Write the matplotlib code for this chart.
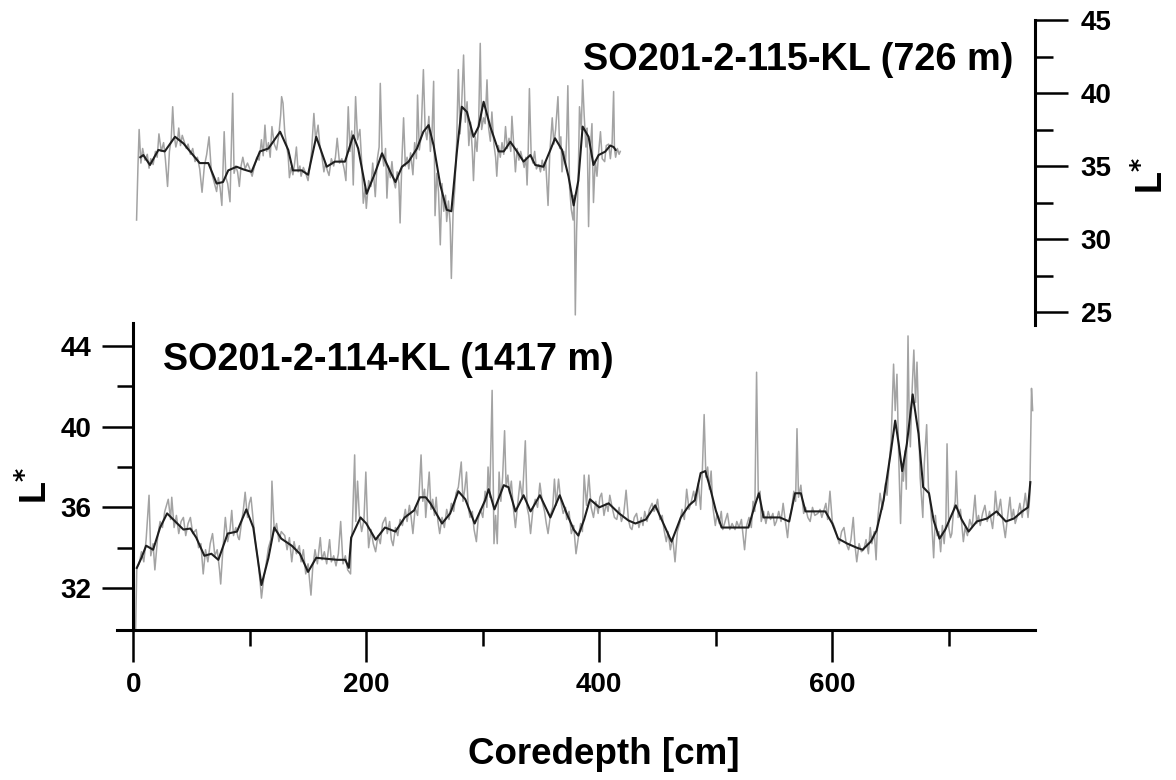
import numpy as np
import matplotlib.pyplot as plt
from matplotlib.ticker import MultipleLocator

plt.rcParams['font.family'] = ['Liberation Sans', 'DejaVu Sans']
plt.rcParams['font.weight'] = 'bold'

# ---- SO201-2-114-KL (1417 m): raw L* record ----
low_raw_depth = [
    2, 3, 5, 7, 9, 11, 13.5, 15, 17, 18.5, 21, 23, 25, 27, 30, 32, 33, 35, 37, 39, 41, 43, 45, 47,
    49, 51, 54, 56, 58, 60, 62, 64, 66, 68, 70, 72, 74, 75, 77, 79, 81, 83, 84.5, 86, 88, 90, 91, 93,
    94.5, 96, 98, 99.5, 101, 103, 105, 107, 109, 110, 112, 114, 116, 118, 119, 121, 123, 125, 127, 130,
    132, 134, 136, 138, 140, 142.5, 144, 146, 148, 150, 151, 152.5, 154, 156, 158, 160.5, 162, 164, 166,
    168.5, 170, 172, 174, 176, 178, 180, 182, 184, 186.5, 187, 188, 190, 191, 192.5, 194, 196, 198,
    199.6, 201, 202, 204, 206, 208, 210, 212, 214, 216.5, 218, 220, 221.5, 223, 225, 227, 229, 231,
    233.5, 235, 237, 238.5, 240, 242, 244, 245.5, 247, 248.5, 250, 251, 252.5, 254, 255.5, 257, 258.5,
    260, 261.5, 263, 265, 267, 269, 271, 273, 275, 277, 279, 281.5, 283, 284.5, 286, 287.5, 289, 291,
    292.5, 294.5, 296, 298, 300, 302, 303.5, 304.5, 306, 308, 309.6, 311, 312.4, 314, 315.5, 317,
    318.7, 320, 321.5, 323, 324.5, 326, 328, 330, 332, 334, 336.5, 338, 339.5, 341, 343, 345, 347, 349,
    351, 353, 354.5, 356, 358, 360, 361.5, 363, 365, 367, 369, 371, 372, 374, 376, 378, 380, 382, 384,
    385.5, 387, 389, 391, 393, 395, 397, 399, 400.5, 402, 404, 406, 407.5, 409, 411, 413, 415, 417, 419,
    421, 423, 425, 426.5, 428, 430, 432, 434, 436, 437.5, 439, 441, 443, 445.3, 447, 448.5, 450, 452,
    454, 455.5, 457.5, 459, 461, 463, 465, 467, 469, 471, 473, 475, 477, 479, 481, 483, 485, 487, 488.5,
    490, 491.5, 493, 494.5, 496, 497.5, 499.6, 501, 503, 504.7, 506, 508, 510, 512, 514, 516.5, 518,
    520, 522, 524.7, 526.5, 528.5, 530.5, 532, 533.5, 535, 536.5, 538, 539, 541, 543, 545, 547, 549,
    550.5, 552, 554, 556, 557.8, 559.5, 561.6, 563, 565, 567, 568.5, 569.7, 571, 573, 575.4, 577, 579,
    581, 583, 585, 587.6, 589.5, 591, 593, 594.5, 596, 598, 600, 602, 604, 606, 608, 610, 612, 614, 616,
    618, 619.5, 621, 623, 625, 627, 629, 631, 632.6, 634, 636, 637.6, 639, 641, 643, 645.7, 647, 649,
    650.5, 652.6, 654, 655.5, 657, 658.6, 660, 661, 662.5, 663.5, 665, 666, 667, 668.5, 670, 671.5,
    672.7, 674, 675.4, 677.7, 679, 681, 682.5, 684, 685.5, 687, 688.5, 690, 691.5, 693, 694.5, 696,
    697.5, 698.5, 700, 701.5, 702.6, 704, 705.5, 706.4, 708, 710, 712.5, 714, 716, 718, 720, 722.5,
    724, 725.5, 727, 729, 731, 733, 735, 737.6, 739, 740, 742, 744.4, 746, 748.5, 750, 752.5, 754,
    755.5, 757, 759, 761, 763, 765.7, 767, 768, 769.5, 771, 772]
low_raw_lstar = [
    30.0, 33.0, 33.2, 33.8, 33.3, 34.4, 36.6, 33.6, 34.2, 32.9, 34.6, 35.3, 35.0, 35.8, 36.4, 35.4,
    36.5, 35.0, 35.6, 34.7, 35.3, 35.5, 34.6, 35.2, 35.5, 34.7, 34.9, 34.0, 34.2, 32.7, 33.9, 33.3,
    34.2, 34.7, 33.6, 33.9, 32.9, 32.2, 34.0, 35.5, 34.3, 34.9, 35.85, 34.6, 35.0, 34.5, 34.4, 35.3,
    35.9, 36.75, 35.5, 36.2, 36.5, 35.3, 34.2, 33.4, 32.2, 31.5, 32.5, 33.2, 34.0, 34.4, 37.3, 34.8,
    35.2, 34.3, 34.8, 34.6, 33.9, 34.5, 33.3, 34.3, 33.7, 34.1, 33.3, 33.9, 32.7, 33.2, 32.6, 31.65,
    33.0, 33.9, 33.2, 34.5, 33.4, 33.8, 33.2, 34.4, 33.3, 33.6, 33.1, 33.7, 35.3, 33.2, 33.6, 32.9,
    32.7, 34.2, 35.0, 38.6, 35.3, 37.3, 35.6, 34.8, 35.4, 37.75, 35.3, 34.0, 34.9, 34.2, 33.8, 34.6,
    34.2, 35.2, 35.5, 34.7, 35.3, 34.4, 34.1, 35.0, 34.6, 35.4, 35.1, 35.9, 35.3, 36.1, 35.5, 34.7,
    36.0, 35.6, 36.9, 38.6, 36.3, 36.9, 35.5, 36.6, 37.75, 35.9, 36.4, 35.6, 36.5, 35.3, 34.7, 35.5,
    35.0, 35.9, 35.4, 36.2, 35.8, 36.7, 37.0, 38.25, 36.3, 36.9, 37.75, 36.0, 35.5, 35.8, 34.9, 34.3,
    35.4, 35.9, 35.5, 36.8, 36.0, 38.0, 36.5, 41.8, 34.2, 35.6, 34.2, 37.75, 36.3, 37.5, 39.8, 37.0,
    37.6, 36.7, 37.3, 36.1, 35.0, 36.2, 37.3, 36.4, 39.3, 36.0, 35.6, 34.7, 35.9, 36.4, 36.0, 37.2,
    36.3, 35.8, 35.2, 34.7, 35.6, 36.0, 37.4, 36.1, 37.4, 36.3, 35.7, 36.0, 35.4, 35.8, 34.7, 35.1,
    33.7, 34.5, 35.2, 34.8, 37.6, 36.1, 37.6, 36.0, 35.5, 36.3, 35.7, 36.5, 36.7, 35.6, 36.2, 35.8,
    36.6, 36.0, 35.5, 35.4, 36.0, 35.3, 35.7, 36.85, 35.4, 35.0, 34.9, 35.5, 35.7, 35.0, 35.5, 35.1,
    35.8, 35.3, 35.9, 36.2, 35.8, 36.0, 36.4, 35.4, 35.6, 34.9, 34.3, 34.8, 33.9, 34.5, 33.3, 34.8,
    35.2, 35.9, 35.4, 36.9, 35.9, 36.3, 36.8, 36.1, 37.2, 35.9, 37.9, 40.6, 37.5, 38.0, 36.9, 37.8,
    36.0, 35.1, 35.7, 35.2, 35.8, 34.9, 35.3, 35.7, 34.9, 35.2, 34.9, 35.3, 35.0, 35.4, 33.9, 35.1,
    35.5, 35.0, 36.3, 35.8, 42.7, 36.5, 36.8, 35.3, 35.8, 35.2, 35.8, 35.4, 35.7, 35.1, 35.3, 35.8,
    35.3, 36.2, 35.4, 34.5, 35.4, 35.9, 36.8, 36.3, 39.9, 36.5, 37.1, 35.7, 36.0, 35.5, 35.3, 36.0,
    35.6, 35.7, 35.9, 35.5, 35.9, 36.2, 35.4, 36.8, 35.3, 35.0, 34.6, 34.2, 34.8, 35.0, 34.2, 33.9,
    34.4, 35.5, 34.1, 33.3, 34.2, 33.8, 33.9, 34.4, 33.7, 35.0, 34.2, 34.8, 33.4, 35.4, 36.7, 35.9,
    37.2, 36.6, 38.3, 39.3, 43.1, 40.8, 42.6, 38.5, 35.2, 38.0, 37.3, 38.8, 36.9, 44.5, 40.5, 39.0,
    41.8, 43.8, 41.2, 43.2, 40.6, 37.5, 35.5, 38.2, 40.1, 37.0, 36.3, 35.1, 33.5, 35.6, 34.6, 34.8,
    33.8, 35.1, 34.2, 35.3, 39.15, 35.0, 34.5, 34.7, 35.8, 36.3, 37.8, 35.5, 35.9, 34.3, 35.0, 34.6,
    35.4, 35.0, 36.6, 35.2, 35.6, 35.1, 35.7, 36.1, 35.3, 35.8, 34.95, 35.8, 36.8, 35.6, 36.4, 35.5,
    34.5, 35.3, 36.5, 35.4, 35.9, 35.2, 35.6, 36.2, 35.5, 36.7, 36.0, 35.5, 36.5, 41.9, 40.8]

# ---- SO201-2-114-KL: smoothed curve ----
low_smooth_depth = [
    3, 7, 11, 17, 23, 29, 36, 43, 49, 54, 61, 67, 73, 81, 89, 97, 103, 110, 116, 121, 127, 136, 143,
    150, 157, 166, 175, 182, 185, 187, 195, 200, 208, 216, 225, 233, 241, 246, 251, 255, 265, 272, 279,
    285, 293, 302, 305, 310, 318, 322, 328, 335, 341, 349, 358, 366, 372, 378, 382, 387, 392, 400, 408,
    417, 425, 431, 440, 448, 455, 462, 470, 477, 482, 487, 491, 495, 500, 505, 514, 523, 528, 533, 537,
    541, 548, 555, 563, 568, 573, 577, 585, 594, 600, 605, 613, 621, 626, 633, 638, 644, 650, 654, 657,
    660, 664, 669, 674, 678, 683, 687, 692, 697, 706, 711, 717, 724, 733, 741, 749, 756, 763, 768, 770]
low_smooth_lstar = [
    33.0, 33.5, 34.1, 33.9, 35.0, 35.7, 35.3, 34.9, 34.95, 34.5, 33.6, 33.7, 33.4, 34.7, 34.8, 35.9,
    35.0, 32.15, 33.5, 35.0, 34.45, 34.1, 33.7, 32.8, 33.5, 33.45, 33.4, 33.4, 33.0, 34.5, 35.5, 35.2,
    34.4, 35.0, 34.8, 35.5, 35.85, 36.5, 36.5, 36.2, 35.2, 35.7, 36.8, 36.4, 35.2, 36.35, 36.9, 35.9,
    37.1, 37.0, 35.8, 36.6, 35.8, 36.6, 35.5, 36.6, 35.7, 34.9, 34.6, 35.4, 36.4, 36.0, 36.2, 35.7,
    35.35, 35.2, 35.4, 36.1, 35.2, 34.3, 35.5, 36.1, 36.35, 37.7, 37.8, 37.0, 35.85, 35.0, 35.0, 35.0,
    35.0, 36.0, 36.7, 35.5, 35.5, 35.5, 35.3, 36.7, 36.7, 35.8, 35.8, 35.8, 35.2, 34.45, 34.2, 34.0,
    33.9, 34.3, 34.85, 36.35, 38.65, 40.3, 39.15, 37.8, 39.15, 41.6, 39.65, 37.0, 36.7, 35.35, 34.45,
    34.9, 36.1, 35.4, 34.8, 35.3, 35.45, 35.8, 35.3, 35.45, 35.8, 36.0, 37.25]

# ---- SO201-2-115-KL (726 m): raw L* record ----
up_raw_depth = [
    2.8, 4, 5, 6.5, 8, 10, 12, 13.5, 15, 17, 19, 20.5, 22, 24, 26, 27.5, 29.4, 31, 32.5, 33.8, 35,
    36.5, 38, 39, 40.5, 42, 44, 45.5, 47, 49, 51, 53, 55, 57, 59, 61, 63, 65, 67, 69, 71.5, 73, 74.5,
    76, 78, 79.5, 81, 83, 85.3, 86.5, 87.8, 89.5, 91, 92.5, 94, 96, 98, 100, 102, 104, 106, 108, 110,
    111.5, 113, 114.5, 116, 117.5, 119, 121, 123, 125, 126.5, 127.3, 128.5, 130, 131.5, 133, 134, 135.5,
    137, 138.5, 140, 141.5, 143, 144, 146, 148, 150, 151.5, 153, 155, 156.5, 158.6, 160, 162, 163.6,
    165, 166.5, 168, 170, 172, 173.5, 175, 177, 179, 181, 182.5, 184.5, 186, 187.5, 188.8, 190.8, 192.5,
    194.5, 196, 197.4, 199, 200, 202, 204, 205.5, 207.7, 209.5, 211, 212, 213.5, 215, 216.5, 217.7,
    219, 220.6, 222, 223.5, 225, 226.5, 228, 229, 230.5, 232, 233.5, 235, 236.5, 238, 240, 241.5, 243,
    244, 245.5, 247, 249, 250.5, 252, 253.7, 255, 256.5, 257.8, 259, 260.5, 262, 263.5, 265, 266.5,
    268, 269, 270.5, 272, 273, 274.5, 276, 277.5, 279, 280.5, 282, 283.5, 285, 286.5, 288, 289.5, 291,
    292, 293.5, 295, 296.5, 297.8, 299, 300.7, 302, 303.6, 305, 306.5, 307.8, 309.5, 311, 312, 313.5,
    315, 316.5, 318, 319.5, 321, 322.5, 324, 325, 326.5, 328, 329.5, 331, 332.5, 334, 335.5, 337, 338,
    339, 340, 341.5, 343, 344.5, 346, 348, 349.5, 351, 352.5, 354, 356, 357.5, 359.6, 361, 362.5, 364.5,
    366, 367, 368, 369.5, 371, 372, 373, 374.5, 376, 377.5, 378.5, 379.4, 380.5, 382, 383, 384.5,
    385.7, 387, 388.5, 389.5, 390.8, 392, 393.7, 395, 396.5, 398, 399.5, 401, 402.5, 404.6, 406, 408,
    409.5, 411, 412.3, 413, 414, 415.5, 417, 418]
up_raw_lstar = [
    31.3, 35.0, 37.5, 35.2, 36.2, 35.4, 35.8, 34.85, 35.5, 35.1, 36.0, 35.6, 37.2, 36.0, 36.6, 35.5,
    33.6, 36.0, 36.8, 39.06, 37.2, 36.3, 36.8, 37.6, 36.4, 37.1, 36.6, 36.2, 36.5, 35.8, 36.2, 35.3,
    35.6, 34.8, 33.2, 35.0, 35.8, 37.0, 34.6, 34.0, 33.25, 34.2, 33.5, 32.3, 37.35, 34.2, 33.8, 32.55,
    39.98, 34.5, 35.0, 34.6, 33.6, 35.0, 35.6, 34.8, 35.2, 34.8, 34.3, 35.0, 35.6, 35.4, 36.8, 35.7,
    37.8, 36.0, 36.6, 35.6, 37.7, 36.5, 36.1, 37.2, 38.5, 39.75, 39.3, 37.3, 36.5, 35.6, 34.2, 34.9,
    34.4, 35.2, 36.3, 34.6, 35.0, 34.3, 34.9, 34.5, 34.0, 34.9, 36.0, 38.6, 36.8, 37.8, 36.5, 35.6,
    34.6, 35.2, 34.7, 34.35, 35.5, 35.0, 35.6, 36.9, 35.2, 35.5, 34.8, 34.0, 39.06, 36.0, 37.4, 33.7,
    39.75, 36.8, 37.5, 35.3, 32.45, 33.5, 32.1, 34.0, 33.6, 35.2, 32.9, 35.5, 36.3, 40.66, 36.0, 35.0,
    36.2, 32.8, 35.0, 34.2, 35.3, 34.0, 33.5, 34.6, 33.8, 31.1, 35.3, 38.3, 35.0, 35.6, 34.8, 35.9,
    34.4, 36.6, 35.5, 39.86, 36.1, 37.0, 41.6, 37.5, 36.8, 38.4, 36.0, 37.5, 40.8, 31.6, 34.5, 33.2,
    29.6, 33.8, 31.9, 33.0, 31.2, 32.6, 31.0, 27.3, 31.8, 33.5, 36.5, 41.6, 37.2, 39.5, 42.6, 38.0,
    39.4, 36.4, 38.0, 36.0, 34.0, 37.0, 36.0, 38.2, 43.4, 37.5, 38.3, 37.9, 40.9, 37.6, 36.7, 38.7,
    36.5, 35.6, 34.3, 36.4, 35.6, 36.6, 35.8, 37.7, 36.2, 36.9, 36.0, 38.4, 36.5, 34.6, 36.2, 35.4,
    36.0, 35.5, 34.9, 35.6, 33.7, 36.1, 40.3, 35.8, 35.2, 36.0, 34.8, 35.1, 34.6, 35.4, 34.7, 35.3,
    32.3, 35.9, 38.3, 36.5, 37.5, 39.75, 36.2, 37.0, 34.6, 36.0, 35.1, 37.0, 40.5, 33.5, 32.0, 31.3,
    33.0, 24.8, 30.5, 34.5, 39.06, 37.5, 40.9, 38.5, 36.3, 37.6, 30.85, 35.8, 37.9, 32.5, 35.4, 34.3,
    36.0, 37.35, 35.5, 35.3, 36.4, 36.5, 35.5, 36.6, 40.1, 36.2, 35.6, 36.2, 35.8, 36.0]

# ---- SO201-2-115-KL: smoothed curve ----
up_smooth_depth = [
    6, 8.6, 14.3, 21.5, 27, 35.8, 43, 50, 57, 64.4, 71.5, 77, 81.5, 88.7, 94.4, 101.5, 108.7, 116, 126,
    133, 137, 144.5, 150, 157, 166, 173, 181.7, 188.8, 193, 200.3, 207.4, 213.5, 220.6, 225, 230.6,
    236.3, 243.5, 249, 253.5, 257.8, 263.5, 269, 273, 277.9, 282, 286.4, 292, 296.4, 300.7, 306.4,
    313.6, 318, 323.6, 329.3, 335, 340.8, 345, 352, 358, 362, 368, 373.6, 378, 382, 385.7, 390.8, 395,
    399.4, 405, 409.4, 412.3, 414]
up_smooth_lstar = [
    35.6, 35.75, 35.07, 36.1, 36.0, 37.0, 36.55, 35.87, 35.2, 35.2, 33.8, 33.9, 34.7, 34.95, 34.77,
    34.6, 36.0, 36.2, 37.35, 36.1, 34.7, 34.7, 34.4, 37.0, 34.95, 35.3, 35.3, 37.1, 36.2, 33.1, 34.5,
    35.87, 34.6, 33.9, 34.95, 35.3, 36.2, 37.35, 37.8, 36.4, 33.7, 32.0, 31.9, 36.1, 39.06, 38.7, 37.0,
    37.7, 39.4, 37.7, 36.0, 36.0, 36.66, 36.0, 35.3, 35.75, 35.07, 34.95, 36.1, 36.9, 36.1, 34.27,
    32.3, 34.0, 37.7, 37.0, 35.07, 35.75, 35.98, 36.4, 36.3, 36.1]

raw_color = '#a3a3a3'
smooth_color = '#1e1e1e'

fig = plt.figure(figsize=(11.76, 7.8), dpi=100)

# lower core, left axis
ax_low = fig.add_axes([117 / 1176, 150 / 780, 918 / 1176, 307 / 780])
ax_low.plot(low_raw_depth, low_raw_lstar, color=raw_color, lw=1.1)
ax_low.plot(low_smooth_depth, low_smooth_lstar, color=smooth_color, lw=1.5)
ax_low.set_xlim(-14, 774)
ax_low.set_ylim(29.92, 45.14)
ax_low.spines['top'].set_visible(False)
ax_low.spines['right'].set_visible(False)
ax_low.spines['left'].set_position(('data', 0))
for s in ('left', 'bottom'):
    ax_low.spines[s].set_linewidth(2.2)
ax_low.xaxis.set_major_locator(MultipleLocator(200))
ax_low.xaxis.set_minor_locator(MultipleLocator(100))
ax_low.set_yticks([32, 36, 40, 44])
ax_low.set_yticks([34, 38, 42], minor=True)
ax_low.tick_params(axis='x', which='major', length=23, width=1.8, pad=7, labelsize=20)
ax_low.tick_params(axis='x', which='minor', length=11.5, width=1.8)
ax_low.tick_params(axis='y', which='major', length=22, width=1.8, pad=8, labelsize=20)
ax_low.tick_params(axis='y', which='minor', length=11.5, width=1.8)
ax_low.text(25.7, 43.3, 'SO201-2-114-KL (1417 m)', fontsize=27.2, fontweight='bold',
            ha='left', va='center')

# upper core, right axis
ax_up = fig.add_axes([117 / 1176, 455 / 780, 918 / 1176, 305 / 780])
ax_up.patch.set_alpha(0)
ax_up.plot(up_raw_depth, up_raw_lstar, color=raw_color, lw=1.1)
ax_up.plot(up_smooth_depth, up_smooth_lstar, color=smooth_color, lw=1.5)
ax_up.set_xlim(-14, 774)
ax_up.set_ylim(24.11, 45)
for s in ('top', 'left', 'bottom'):
    ax_up.spines[s].set_visible(False)
ax_up.spines['right'].set_linewidth(2.2)
ax_up.xaxis.set_visible(False)
ax_up.yaxis.tick_right()
ax_up.yaxis.set_major_locator(MultipleLocator(5))
ax_up.yaxis.set_minor_locator(MultipleLocator(2.5))
ax_up.tick_params(axis='y', which='major', length=24, width=1.8, pad=9, labelsize=20)
ax_up.tick_params(axis='y', which='minor', length=13, width=1.8)
ax_up.text(386, 42.26, 'SO201-2-115-KL (726 m)', fontsize=27.3, fontweight='bold',
           ha='left', va='center')

fig.text(604 / 1176, 1 - 755 / 780, 'Coredepth [cm]', fontsize=26.5, fontweight='bold',
         ha='center', va='center')
fig.text(37 / 1176, 1 - 485 / 780, 'L$^{\\mathbf{*}}$', fontsize=26, fontweight='bold',
         rotation=90, ha='center', va='center')
fig.text(1153 / 1176, 1 - 175 / 780, 'L$^{\\mathbf{*}}$', fontsize=26, fontweight='bold',
         rotation=90, ha='center', va='center')

fig.savefig('out.png', dpi=100)
